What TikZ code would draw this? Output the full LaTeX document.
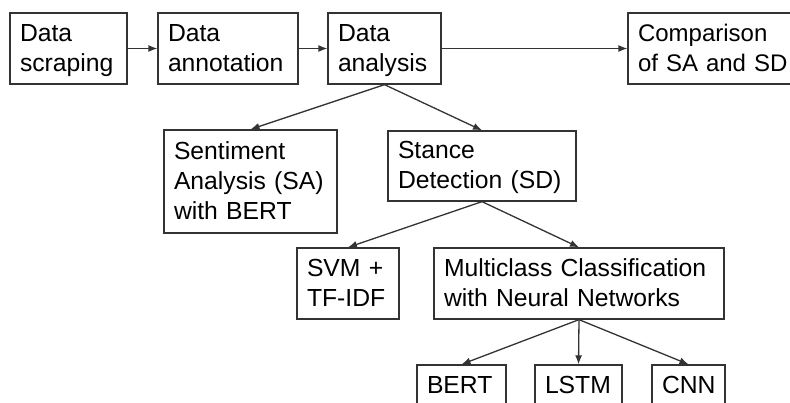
\documentclass[tikz,border=0pt]{standalone}
\usepackage{fontspec}
\setmainfont{Liberation Sans}
\usetikzlibrary{arrows.meta}
\tikzset{
	stepbox/.style={draw=black!80, line width=1.3pt, align=left, inner xsep=10pt, inner ysep=0pt, text height=22pt, text depth=36pt, font=\fontsize{24.7}{30}\selectfont},
	link/.style={->, draw=black!80, line width=1.3pt}
}
\newcommand{\drawStepBox}[6][]{
	\pgfmathsetmacro{\stepTextWidth}{#4-20}
	\node[stepbox, minimum width=#4pt, minimum height=#5pt, text width=\stepTextWidth pt, #1] (#2) at (#3) {#6};
}
\begin{document}
\begin{tikzpicture}[x=1pt, y=-1pt, >={Latex[length=9pt, width=7pt]}]
		\useasboundingbox (0,0) rectangle (790,403);

		\coordinate (C_scraping) at (68.5,48.5);
		\coordinate (C_annotation) at (228,48.5);
		\coordinate (C_analysis) at (384.5,48.5);
		\coordinate (C_comparison) at (720.5,48.5);
		\coordinate (C_sentiment) at (250.5,181.5);
		\coordinate (C_stance) at (482,166);
		\coordinate (C_svm) at (348,283.5);
		\coordinate (C_multiclass) at (579,283.5);
		\coordinate (C_bert) at (461.5,386);
		\coordinate (C_lstm) at (578.5,386);
		\coordinate (C_cnn) at (688.5,386);

		\drawStepBox{scraping}{C_scraping}{117}{71}{Data\\scraping}
		\drawStepBox{annotation}{C_annotation}{140}{71}{Data\\annotation}
		\drawStepBox{analysis}{C_analysis}{113}{71}{Data\\analysis}
		\drawStepBox[font=\fontsize{24}{30}\selectfont]{comparison}{C_comparison}{185}{71}{Comparison\\of SA and SD}
		\drawStepBox[text depth=66pt]{sentiment}{C_sentiment}{173}{103}{Sentiment\\Analysis (SA)\\with BERT}
		\drawStepBox{stance}{C_stance}{188}{70}{Stance\\Detection (SD)}
		\drawStepBox{svm}{C_svm}{102}{71}{SVM +\\TF-IDF}
		\drawStepBox{multiclass}{C_multiclass}{290}{71}{Multiclass Classification\\with Neural Networks}
		\drawStepBox[text depth=8pt]{bert}{C_bert}{89}{42}{BERT}
		\drawStepBox[text depth=8pt]{lstm}{C_lstm}{87}{42}{LSTM}
		\drawStepBox[text depth=8pt]{cnn}{C_cnn}{73}{42}{CNN}

		\draw[link] (scraping) -- (annotation);
		\draw[link] (annotation) -- (analysis);
		\draw[link] (analysis) -- (comparison);
		\draw[link] (analysis.south) -- (sentiment.north);
		\draw[link] (analysis.south) -- (stance.north);
		\draw[link] (stance.south) -- (svm.north);
		\draw[link] (stance.south) -- (multiclass.north);
		\draw[link] (multiclass.south) -- (bert.north);
		\draw[link] (multiclass.south) -- (lstm.north);
		\draw[link] (multiclass.south) -- (cnn.north);

\end{tikzpicture}
\end{document}
